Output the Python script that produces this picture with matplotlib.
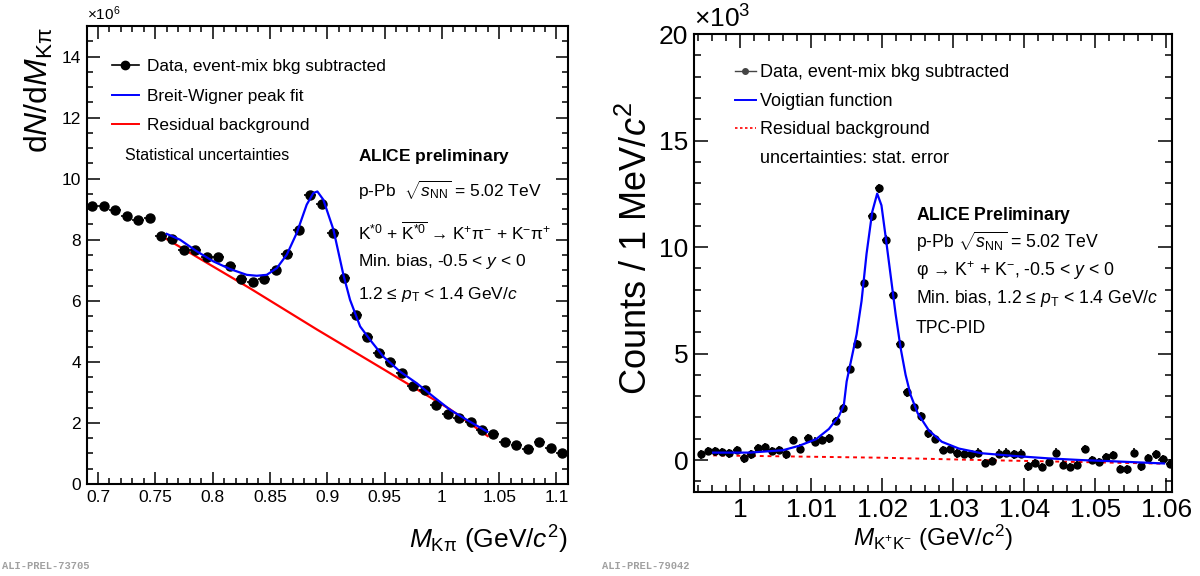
#!/usr/bin/env python3
import numpy as np
import matplotlib.pyplot as plt
from matplotlib.lines import Line2D
from matplotlib.ticker import MultipleLocator, FuncFormatter

plt.rcParams['font.family'] = ['Liberation Sans', 'DejaVu Sans']
plt.rcParams['mathtext.fontset'] = 'custom'
plt.rcParams['mathtext.rm'] = 'Liberation Sans'
plt.rcParams['mathtext.it'] = 'Liberation Sans:italic'
plt.rcParams['mathtext.bf'] = 'Liberation Sans:bold'
plt.rcParams['mathtext.sf'] = 'Liberation Sans'

# K*0 -> K pi invariant mass (counts in units of 1e6)
kpi_x = [0.695, 0.705, 0.715, 0.725, 0.735, 0.745, 0.755, 0.765, 0.775, 0.785,
         0.795, 0.805, 0.815, 0.825, 0.835, 0.845, 0.855, 0.865, 0.875, 0.885,
         0.895, 0.905, 0.915, 0.925, 0.935, 0.945, 0.955, 0.965, 0.975, 0.985,
         0.995, 1.005, 1.015, 1.025, 1.035, 1.045, 1.055, 1.065, 1.075, 1.085,
         1.095, 1.105]
kpi_y = [9.09, 9.11, 8.96, 8.77, 8.63, 8.71, 8.13, 8.02, 7.67, 7.65,
         7.45, 7.43, 7.15, 6.71, 6.61, 6.71, 7.02, 7.54, 8.33, 9.46,
         9.17, 8.22, 6.74, 5.54, 4.80, 4.28, 3.98, 3.63, 3.21, 3.08,
         2.59, 2.28, 2.15, 2.04, 1.77, 1.64, 1.37, 1.28, 1.14, 1.39,
         1.17, 1.01]
kpi_err = 0.04
kpi_halfbin = 0.005

# Breit-Wigner + residual background fit
bw_x = [0.760, 0.7716, 0.7862, 0.8007, 0.8152, 0.8298, 0.8385, 0.8472, 0.8560,
        0.8647, 0.8734, 0.8821, 0.8879, 0.8914, 0.8966, 0.9054, 0.9141, 0.9199,
        0.9287, 0.9374, 0.949, 0.9636, 0.9781, 0.9926, 1.0072, 1.0218, 1.0397]
bw_y = [8.19, 8.00, 7.62, 7.29, 7.04, 6.85, 6.82, 6.85, 7.07,
        7.51, 8.22, 9.15, 9.53, 9.58, 9.31, 8.33, 6.85, 6.03,
        5.16, 4.72, 4.17, 3.68, 3.30, 2.86, 2.43, 2.10, 1.71]
kbg_x = [0.760, 0.833, 0.891, 0.949, 1.007, 1.040]
kbg_y = [8.02, 6.40, 5.06, 3.76, 2.45, 1.57]

# phi -> K+K- invariant mass (counts in units of 1e3)
phi_x = [0.9945, 0.9955, 0.9965, 0.9975, 0.9985, 0.9995, 1.0005, 1.0015, 1.0025,
         1.0035, 1.0045, 1.0055, 1.0065, 1.0075, 1.0085, 1.0095, 1.0105, 1.0115,
         1.0125, 1.0135, 1.0145, 1.0155, 1.0165, 1.0175, 1.0185, 1.0195, 1.0205,
         1.0215, 1.0225, 1.0235, 1.0245, 1.0255, 1.0265, 1.0275, 1.0285, 1.0295,
         1.0305, 1.0315, 1.0325, 1.0335, 1.0345, 1.0355, 1.0365, 1.0375, 1.0385,
         1.0395, 1.0405, 1.0415, 1.0425, 1.0435, 1.0445, 1.0455, 1.0465, 1.0475,
         1.0485, 1.0495, 1.0505, 1.0515, 1.0525, 1.0535, 1.0545, 1.0555, 1.0565,
         1.0575, 1.0585, 1.0595, 1.0605]
phi_y = [0.27, 0.43, 0.41, 0.38, 0.32, 0.48, 0.08, 0.27, 0.56,
         0.62, 0.43, 0.48, 0.27, 0.95, 0.54, 1.02, 0.86, 0.95,
         1.02, 1.83, 2.43, 4.29, 5.45, 8.31, 11.44, 12.75, 10.35,
         7.74, 5.45, 3.18, 2.50, 2.05, 1.25, 0.98, 0.48, 0.54,
         0.32, 0.30, 0.27, 0.35, -0.13, -0.05, 0.30, 0.35, 0.27,
         0.30, -0.29, -0.13, -0.32, -0.08, 0.35, -0.22, -0.32, -0.22,
         0.51, 0.00, -0.10, 0.14, 0.24, -0.41, -0.44, 0.35, -0.29,
         0.08, 0.27, 0.03, -0.17]
phi_err = 0.2
phi_halfbin = 0.0005

# Voigtian fit and residual background
vo_x = [0.9962, 1.0013, 1.0060, 1.0083, 1.0107, 1.0125, 1.0139, 1.0146, 1.0150,
        1.0157, 1.0164, 1.0171, 1.0178, 1.0186, 1.0193, 1.0199, 1.0205, 1.0212,
        1.0219, 1.0226, 1.0233, 1.0240, 1.0250, 1.0266, 1.0284, 1.0308, 1.0340,
        1.0387, 1.0434, 1.0480, 1.0527, 1.0597]
vo_y = [0.35, 0.35, 0.46, 0.67, 0.98, 1.46, 2.06, 2.57, 3.69,
        4.79, 5.90, 7.47, 9.68, 11.65, 12.51, 11.96, 10.46, 8.65,
        6.84, 5.26, 4.00, 3.06, 2.20, 1.38, 0.86, 0.54, 0.32,
        0.19, 0.08, 0.00, -0.06, -0.16]
pbg_x = [0.9962, 1.0200, 1.0340, 1.0597]
pbg_y = [0.22, 0.11, 0.00, -0.17]

BLUE = '#0000ff'
RED = '#ff0000'
fmt_g = FuncFormatter(lambda v, p: '%g' % round(v, 4))


def style_axes(ax, labelsize, major, minor):
    ax.tick_params(which='both', direction='in', top=True, right=True, width=1.1)
    ax.tick_params(which='major', length=major, labelsize=labelsize, pad=4)
    ax.tick_params(which='minor', length=minor)
    for s in ax.spines.values():
        s.set_linewidth(1.5)


fig = plt.figure(figsize=(12, 5.76), dpi=100)

# ---- left panel: K*0
axL = fig.add_axes([0.0721, 0.1597, 0.4012, 0.7952])
axL.errorbar(kpi_x, kpi_y, xerr=kpi_halfbin, yerr=kpi_err, fmt='o', color='k',
             ms=6.5, elinewidth=1.2, capsize=0, zorder=3)
axL.plot(kbg_x, kbg_y, color=RED, lw=1.6, zorder=2)
axL.plot(bw_x, bw_y, color=BLUE, lw=1.6, zorder=4)
axL.set_xlim(0.69, 1.11)
axL.set_ylim(0, 15)
axL.xaxis.set_major_locator(MultipleLocator(0.05))
axL.xaxis.set_minor_locator(MultipleLocator(0.01))
axL.yaxis.set_major_locator(MultipleLocator(2))
axL.yaxis.set_minor_locator(MultipleLocator(0.5))
axL.xaxis.set_major_formatter(fmt_g)
style_axes(axL, 12.5, 9, 4.5)
axL.set_ylabel(r'd$N$/d$M_{\mathrm{K\pi}}$', loc='top', fontsize=23)
axL.yaxis.set_label_coords(-0.066, 0.998)
axL.set_xlabel(r'$M_{\mathrm{K\pi}}$ (GeV/$c^{2}$)', loc='right', fontsize=19, labelpad=14)
axL.text(0.0, 1.006, r'$\times$10$^{6}$', transform=axL.transAxes, fontsize=11,
         ha='left', va='bottom')

hL = [Line2D([], [], color='k', marker='o', ms=6, lw=1.2),
      Line2D([], [], color=BLUE, lw=1.4),
      Line2D([], [], color=RED, lw=1.4)]
axL.legend(hL, ['Data, event-mix bkg subtracted', 'Breit-Wigner peak fit',
                'Residual background'],
           loc='upper left', bbox_to_anchor=(0.052, 0.927), frameon=False,
           fontsize=12.4, handlelength=1.6, handletextpad=0.45, labelspacing=0.82,
           borderpad=0, borderaxespad=0)
axL.text(0.08, 0.718, 'Statistical uncertainties', transform=axL.transAxes,
         fontsize=11.5, va='center')
tL = [(0.714, r'$\mathbf{ALICE\ preliminary}$'),
      (0.642, r'p-Pb  $\sqrt{s_{\mathrm{NN}}}$ = 5.02 TeV'),
      (0.552, r'K$^{*0}$ + $\overline{\mathrm{K}^{*0}}$ → K$^{+}$π$^{-}$ + K$^{-}$π$^{+}$'),
      (0.485, r'Min. bias, -0.5 < $y$ < 0'),
      (0.413, r'1.2 ≤ $p_{\mathrm{T}}$ < 1.4 GeV/$c$')]
for yy, s in tL:
    axL.text(0.564, yy, s, transform=axL.transAxes, fontsize=12.5, va='center')

# ---- right panel: phi
axR = fig.add_axes([0.5783, 0.1458, 0.3983, 0.7951])
axR.errorbar(phi_x, phi_y, xerr=phi_halfbin, yerr=phi_err, fmt='o', color='k',
             ms=5, elinewidth=1.2, capsize=0, zorder=3)
axR.plot(pbg_x, pbg_y, color=RED, lw=1.4, ls=(0, (2, 2)), zorder=2)
axR.plot(vo_x, vo_y, color=BLUE, lw=1.6, zorder=4)
axR.set_xlim(0.9935, 1.0608)
axR.set_ylim(-1.5, 20)
axR.xaxis.set_major_locator(MultipleLocator(0.01))
axR.xaxis.set_minor_locator(MultipleLocator(0.002))
axR.yaxis.set_major_locator(MultipleLocator(5))
axR.yaxis.set_minor_locator(MultipleLocator(1))
axR.xaxis.set_major_formatter(fmt_g)
style_axes(axR, 19, 10, 5)
axR.set_ylabel(r'Counts / 1 MeV/$c^{2}$', fontsize=26)
axR.yaxis.set_label_coords(-0.082, 0.533)
axR.set_xlabel(r'$M_{\mathrm{K^{+}K^{-}}}$ (GeV/$c^{2}$)', fontsize=17.5, labelpad=1)
axR.text(0.0, 1.004, r'$\times$10$^{3}$', transform=axR.transAxes, fontsize=19,
         ha='left', va='bottom')

hR = [Line2D([], [], color='#444444', marker='o', ms=4, lw=1.0),
      Line2D([], [], color=BLUE, lw=1.4),
      Line2D([], [], color=RED, lw=1.2, ls=(0, (1.5, 1.5))),
      Line2D([], [], color='none')]
axR.legend(hR, ['Data, event-mix bkg subtracted', 'Voigtian function',
                'Residual background', 'uncertainties: stat. error'],
           loc='upper left', bbox_to_anchor=(0.085, 0.934), frameon=False,
           fontsize=13, handlelength=1.2, handletextpad=0.2, labelspacing=0.64,
           borderpad=0, borderaxespad=0)
tR = [(0.604, r'$\mathbf{ALICE\ Preliminary}$'),
      (0.545, r'p-Pb $\sqrt{s_{\mathrm{NN}}}$ = 5.02 TeV'),
      (0.4835, r'φ → K$^{+}$ + K$^{-}$, -0.5 < $y$ < 0'),
      (0.422, r'Min. bias, 1.2 ≤ $p_{\mathrm{T}}$ < 1.4 GeV/$c$'),
      (0.356, 'TPC-PID')]
for yy, s in tR:
    axR.text(0.464, yy, s, transform=axR.transAxes, fontsize=12.7, va='center')

for xx, tag in [(0.002, 'ALI-PREL-73705'), (0.502, 'ALI-PREL-79042')]:
    fig.text(xx, 0.017, tag, color='#a0a0a0', fontsize=7.5, family='Liberation Mono',
             weight='bold', va='center')

fig.savefig('out.png', dpi=100)
